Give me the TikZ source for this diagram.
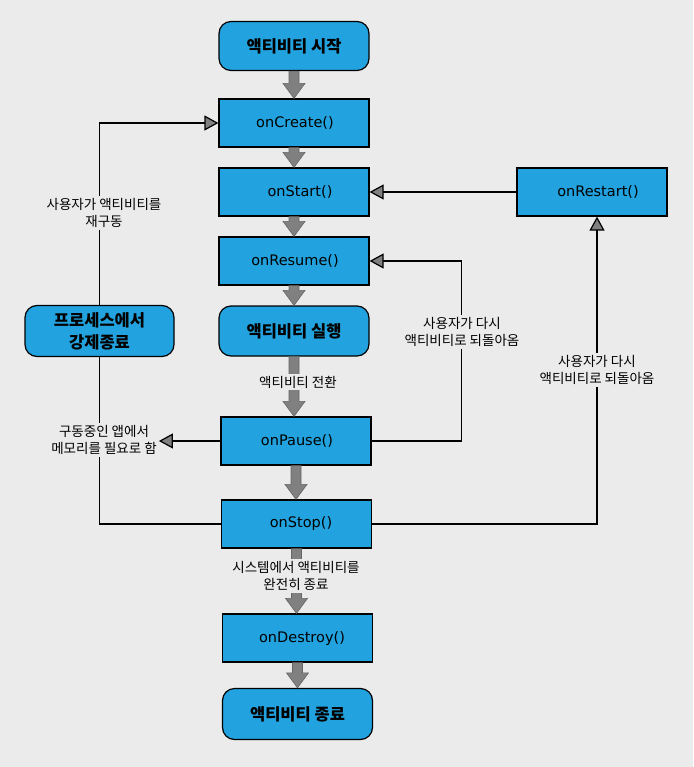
\documentclass[tikz,border=0pt]{standalone}
\usepackage{fontspec}
\setmainfont{DejaVu Sans}
\newfontfamily\kr{Noto Sans CJK KR}
\usetikzlibrary{arrows.meta,calc}
\definecolor{bg}{HTML}{EBEBEB}
\definecolor{boxblue}{HTML}{22A3DF}
\definecolor{fatgray}{HTML}{808080}
\tikzset{
 box/.style={draw=black, line width=1.2pt, fill=boxblue, minimum width=150pt, minimum height=48pt, inner sep=0pt, font=\fontsize{14.5}{17}\selectfont},
 term/.style={box, rounded corners=12pt, font=\kr\bfseries\fontsize{16.5}{22}\selectfont, align=center},
 lbl/.style={fill=bg, align=center, inner sep=2pt, font=\kr\fontsize{13.5}{17}\selectfont},
 conn/.style={draw=black, line width=1.2pt},
 arr/.style={conn, -{Triangle[width=15pt,length=14pt,fill=fatgray]}},
}
\newcommand\fatarrow[2]{%
 \path[draw=black!60, fill=fatgray, line width=0.6pt] let \p1=(#1.south), \p2=(#2.north) in
  (\x1-5pt,\y1) -- (\x1-5pt,\y2+15pt) -- (\x1-11pt,\y2+15pt) -- (\x1,\y2) -- (\x1+11pt,\y2+15pt) -- (\x1+5pt,\y2+15pt) -- (\x1+5pt,\y1) -- cycle;}
\begin{document}
\begin{tikzpicture}[x=1pt,y=-1pt]
\useasboundingbox[fill=bg] (0,0) rectangle (693,767);
% nodes
\node[term, minimum height=49pt] (start) at (294,46) {액티비티 시작};
\node[box] (create) at (294,123) {\hspace*{2pt}onCreate()};
\node[box] (onstart) at (294,192) {\hspace*{12pt}onStart()};
\node[box] (restart) at (592,192) {\hspace*{12pt}onRestart()};
\node[box] (resume) at (294,261) {\hspace*{2pt}onResume()};
\node[term, minimum height=50pt] (run) at (294,331) {액티비티 실행};
\node[box] (pause) at (296,441) {\hspace*{2pt}onPause()};
\node[box] (stop) at (296.5,524) {\hspace*{9pt}onStop()};
\node[box] (destroy) at (297.5,638) {\hspace*{9pt}onDestroy()};
\node[term, minimum height=51pt] (finish) at (297.5,714) {액티비티 종료};
\node[term, minimum width=149pt, minimum height=51pt] (kill) at (99.5,331) {프로세스에서\\강제종료};
% thin connectors
\draw[arr] (kill.north) |- (create.west);
\draw[conn] (stop.west) -| (kill.south);
\draw[arr] (restart.west) -- (onstart.east);
\draw[arr] (pause.east) -- ++(90,0) |- (resume.east);
\draw[arr] (stop.east) -| ([xshift=5pt]restart.south);
% fat arrows
\fatarrow{start}{create}
\fatarrow{create}{onstart}
\fatarrow{onstart}{resume}
\fatarrow{resume}{run}
\fatarrow{run}{pause}
\fatarrow{pause}{stop}
\fatarrow{stop}{destroy}
\fatarrow{destroy}{finish}
% labels
\node[lbl] (relaunch) at (104,213) {사용자가 액티비티를\\재구동};
\node[lbl] (memlbl) at (104,440) {구동중인 앱에서\\메모리를 필요로 함};
\draw[arr] (pause.west) -- (pause.west -| memlbl.east);
\node[lbl] (back1) at (462,332) {사용자가 다시\\액티비티로 되돌아옴};
\node[lbl] (back2) at (597,370) {사용자가 다시\\액티비티로 되돌아옴};
\node[lbl] (switch) at (298,382) {액티비티 전환};
\node[lbl] (sysend) at (296,576) {시스템에서 액티비티를\\완전히 종료};
\end{tikzpicture}
\end{document}
